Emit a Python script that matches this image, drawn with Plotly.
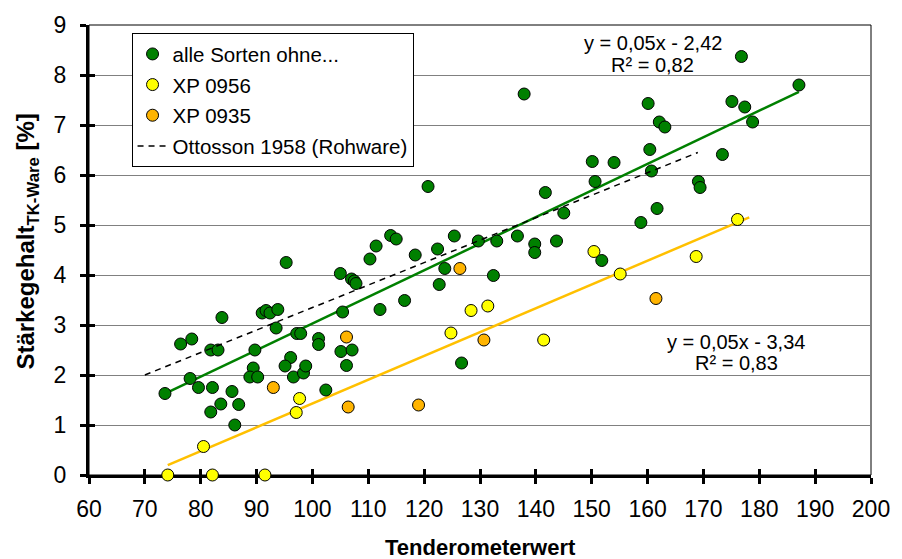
import plotly.graph_objects as go

# ---------------- data ----------------
green_x = [73.6, 76.4, 78.4, 78.1, 79.6, 82.1, 81.8, 83.1, 83.8, 81.8, 83.6, 85.6, 86.8, 86.1,
           89.7, 89.4, 88.8, 90.2, 91.0, 91.7, 92.4, 93.8, 93.5, 96.1, 95.1, 96.6, 98.4, 98.8,
           97.2, 97.9, 95.3, 101.1, 101.1, 102.4, 105.0, 107.0, 107.5, 107.8, 105.4, 105.1,
           107.1, 106.1, 111.4, 110.3, 114.0, 115.0, 112.1, 120.7, 118.4, 122.4, 125.4, 123.7,
           122.7, 116.5, 129.7, 133.0, 132.4, 136.7, 139.8, 139.8, 143.7, 141.7, 145.0, 126.7,
           137.9, 160.1, 162.1, 163.1, 160.4, 160.7, 150.1, 154.0, 150.6, 173.4, 175.1, 177.4,
           178.8, 187.1, 176.8, 169.1, 169.4, 161.7, 158.8, 151.8]
green_y = [1.63, 2.62, 2.72, 1.93, 1.75, 1.75, 2.50, 2.50, 3.15, 1.26, 1.42, 1.67, 1.41, 1.00,
           2.50, 2.14, 1.96, 1.96, 3.24, 3.29, 3.24, 3.31, 2.94, 2.35, 2.18, 1.96, 2.04, 2.18,
           2.83, 2.83, 4.25, 2.73, 2.61, 1.70, 4.03, 3.92, 3.88, 3.83, 3.26, 2.47,
           2.50, 2.19, 4.58, 4.32, 4.79, 4.72, 3.31, 5.77, 4.40, 4.52, 4.78, 4.13,
           3.81, 3.49, 4.68, 4.68, 3.99, 4.78, 4.62, 4.45, 4.68, 5.65, 5.24, 2.24,
           7.62, 7.43, 7.06, 6.96, 6.51, 6.08, 6.27, 6.25, 5.87, 6.41, 7.47, 7.36,
           7.06, 7.80, 8.37, 5.87, 5.75, 5.33, 5.05, 4.29]

xp0956_x = [74.1, 82.1, 91.5, 80.5, 97.7, 97.1, 128.4, 131.4, 124.8, 141.4, 150.4, 155.1, 168.7, 176.1]
xp0956_y = [0.00, 0.00, 0.00, 0.57, 1.53, 1.25, 3.29, 3.38, 2.84, 2.70, 4.47, 4.02, 4.37, 5.11]

xp0935_x = [93.0, 106.1, 106.4, 126.4, 130.7, 119.0, 161.5]
xp0935_y = [1.75, 2.76, 1.36, 4.13, 2.70, 1.40, 3.53]

# trend lines
green_trend_x = [73.6, 187.1]
green_fit = (0.0532, -2.29)
xp_trend_x = [74.1, 178.2]
xp_fit = (0.0476, -3.33)
ottosson_x = [70.0, 169.0]
ottosson_y = [2.00, 6.45]

x_ticks = list(range(60, 201, 10))
y_ticks = list(range(0, 10))

FONT = "Arial, Liberation Sans, sans-serif"

green_trend_y = [green_fit[0] * v + green_fit[1] for v in green_trend_x]
xp_trend_y = [xp_fit[0] * v + xp_fit[1] for v in xp_trend_x]

fig = go.Figure()

fig.add_trace(go.Scatter(x=green_trend_x, y=green_trend_y, mode="lines",
                         line=dict(color="#008000", width=2.5), showlegend=False, hoverinfo="skip"))
fig.add_trace(go.Scatter(x=xp_trend_x, y=xp_trend_y, mode="lines",
                         line=dict(color="#FFC000", width=2.5), showlegend=False, hoverinfo="skip"))

mk = dict(size=12, line=dict(color="#000000", width=1))
fig.add_trace(go.Scatter(x=green_x, y=green_y, mode="markers", name="alle Sorten ohne...",
                         marker=dict(color="#008000", **mk), cliponaxis=False, legendgroup="a"))
fig.add_trace(go.Scatter(x=xp0956_x, y=xp0956_y, mode="markers", name="XP 0956",
                         marker=dict(color="#FFFF00", **mk), cliponaxis=False, legendgroup="b"))
fig.add_trace(go.Scatter(x=xp0935_x, y=xp0935_y, mode="markers", name="XP 0935",
                         marker=dict(color="#FFB400", **mk), cliponaxis=False, legendgroup="c"))
fig.add_trace(go.Scatter(x=ottosson_x, y=ottosson_y, mode="lines", name="Ottosson 1958 (Rohware)",
                         line=dict(color="#000000", width=1.5, dash="6px,5px"), legendgroup="d"))

# invisible trace to activate overlay axes (inner half of crossing ticks)
fig.add_trace(go.Scatter(x=[None], y=[None], xaxis="x2", yaxis="y2", showlegend=False, hoverinfo="skip"))

axis_common = dict(showline=True, linecolor="#000000", linewidth=3, ticks="outside",
                   ticklen=6, tickwidth=3, tickcolor="#000000", zeroline=False,
                   tickfont=dict(family=FONT, size=23, color="#000000"), layer="below traces")

fig.update_layout(
    width=902, height=559,
    margin=dict(l=89, r=22, t=21, b=84),
    paper_bgcolor="white", plot_bgcolor="white",
    font=dict(family=FONT, color="#000000"),
    xaxis=dict(range=[60, 200], tickvals=x_ticks, showgrid=False,
               ticklabelstandoff=5, **axis_common),
    yaxis=dict(range=[0, 9], tickvals=y_ticks, showgrid=True, gridcolor="#808080", gridwidth=1,
               ticklabelstandoff=9, **axis_common),
    xaxis2=dict(range=[60, 200], tickvals=x_ticks, overlaying="x", side="bottom", anchor="y",
                showticklabels=False, ticks="inside", ticklen=6, tickwidth=3, tickcolor="#000000",
                showgrid=False, zeroline=False, showline=False),
    yaxis2=dict(range=[0, 9], tickvals=y_ticks, overlaying="y", side="left", anchor="x",
                showticklabels=False, ticks="inside", ticklen=6, tickwidth=3, tickcolor="#000000",
                showgrid=False, zeroline=False, showline=False),
    legend=dict(x=0.0544, y=0.982, xanchor="left", yanchor="top",
                bgcolor="white", bordercolor="#000000", borderwidth=1,
                font=dict(family=FONT, size=20.5, color="#000000"),
                tracegroupgap=1, itemwidth=30),
    shapes=[dict(type="rect", xref="paper", yref="paper", x0=0, x1=1, y0=0, y1=1,
                 line=dict(color="#000000", width=1), layer="below")],
    annotations=[
        dict(x=160.9, y=8.645, xref="x", yref="y", text="y = 0,05x - 2,42", showarrow=False,
             font=dict(family=FONT, size=20, color="#000000"), bgcolor="white"),
        dict(x=160.9, y=8.20, xref="x", yref="y", text="R² = 0,82", showarrow=False,
             font=dict(family=FONT, size=20, color="#000000")),
        dict(x=175.9, y=2.665, xref="x", yref="y", text="y = 0,05x - 3,34", showarrow=False,
             font=dict(family=FONT, size=20, color="#000000")),
        dict(x=175.9, y=2.248, xref="x", yref="y", text="R² = 0,83", showarrow=False,
             font=dict(family=FONT, size=20, color="#000000")),
        dict(x=0.5, y=-0.161, xref="paper", yref="paper", text="<b>Tenderometerwert</b>",
             showarrow=False, font=dict(family=FONT, size=22, color="#000000"), yanchor="middle"),
        dict(x=-0.0784, y=0.518, xref="paper", yref="paper",
             text="<b>Stärkegehalt<sub>TK-Ware</sub> [%]</b>", textangle=-90,
             showarrow=False, font=dict(family=FONT, size=24, color="#000000"),
             xanchor="center", yanchor="middle"),
    ],
)

fig.write_html("out.html")
